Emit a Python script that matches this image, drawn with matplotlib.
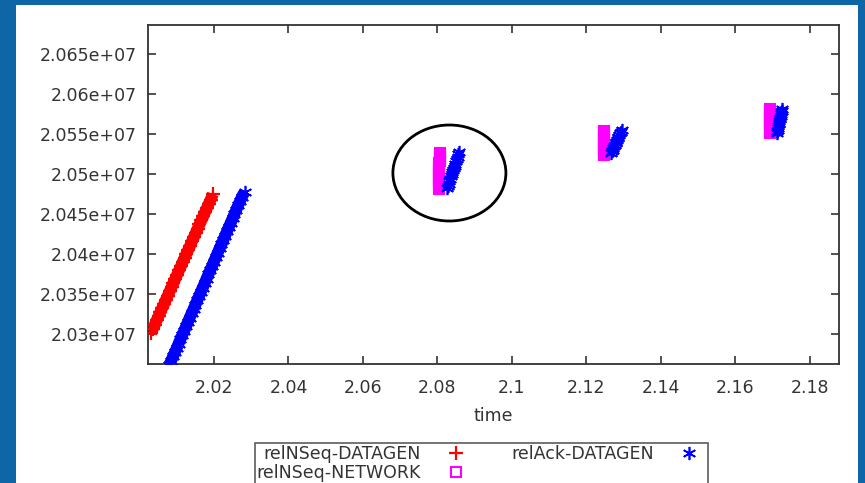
import matplotlib.pyplot as plt
from matplotlib.patches import Rectangle, Ellipse

# relNSeq-DATAGEN (red +)
seq_t = [2.0031, 2.0036, 2.0041, 2.0046, 2.0051, 2.0056, 2.0061, 2.0066, 2.0071,
         2.0076, 2.0081, 2.0086, 2.0091, 2.0096, 2.0101, 2.0106, 2.0111, 2.0116,
         2.0121, 2.0126, 2.0131, 2.0136, 2.0141, 2.0146, 2.0151, 2.0156, 2.0161,
         2.0166, 2.0171, 2.0176, 2.0181, 2.0186, 2.0191, 2.0197]
seq_v = [20301000, 20306500, 20311500, 20317000, 20322000, 20327500, 20332500,
         20337500, 20343000, 20348000, 20353500, 20358500, 20364000, 20369000,
         20374000, 20379500, 20384500, 20390000, 20395000, 20400500, 20405500,
         20410500, 20416000, 20421000, 20426500, 20431500, 20437000, 20442000,
         20447000, 20452500, 20457500, 20463000, 20468000, 20475000]

# relAck-DATAGEN (blue *), first ramp then three short bursts
ack_t = [2.0080, 2.0085, 2.0090, 2.0095, 2.0100, 2.0105, 2.0110, 2.0115, 2.0120,
         2.0125, 2.0130, 2.0135, 2.0140, 2.0145, 2.0150, 2.0155, 2.0160, 2.0165,
         2.0170, 2.0175, 2.0180, 2.0185, 2.0190, 2.0195, 2.0200, 2.0205, 2.0210,
         2.0215, 2.0220, 2.0225, 2.0230, 2.0235, 2.0240, 2.0245, 2.0250, 2.0255,
         2.0260, 2.0265, 2.0270, 2.0275, 2.0282]
ack_v = [20261000, 20266500, 20272000, 20277000, 20282500, 20288000, 20293500,
         20299000, 20304000, 20309500, 20315000, 20320500, 20326000, 20331000,
         20336500, 20342000, 20347500, 20353000, 20358000, 20363500, 20369000,
         20374500, 20380000, 20385000, 20390500, 20396000, 20401500, 20407000,
         20412000, 20417500, 20423000, 20428500, 20434000, 20439000, 20444500,
         20450000, 20455500, 20461000, 20466000, 20471500, 20477500]
burst_ack_t = [2.0826, 2.0828, 2.0830, 2.0832, 2.0834, 2.0836, 2.0838, 2.0840, 2.0842,
               2.0844, 2.0846, 2.0848, 2.0850, 2.0852, 2.0854, 2.0856, 2.0858,
               2.1266, 2.1268, 2.1270, 2.1272, 2.1274, 2.1276, 2.1278, 2.1280,
               2.1282, 2.1284, 2.1286, 2.1288, 2.1290, 2.1293, 2.1295,
               2.1711, 2.1712, 2.1713, 2.1714, 2.1715, 2.1716, 2.1717, 2.1718,
               2.1719, 2.1720, 2.1721, 2.1722, 2.1723, 2.1724, 2.1725]
burst_ack_v = [20482500, 20485000, 20488000, 20491000, 20494000, 20497000, 20499500, 20502000, 20505000,
               20508000, 20510500, 20513000, 20516000, 20519000, 20521500, 20524500, 20527500,
               20526250, 20528500, 20530500, 20532500, 20534500, 20536500, 20538500, 20540500,
               20542500, 20544500, 20546500, 20549000, 20551000, 20553000, 20555000,
               20551250, 20553500, 20555500, 20557500, 20559500, 20562000, 20564000, 20566500,
               20568500, 20570500, 20572500, 20575000, 20577000, 20579000, 20581250]

# relNSeq-NETWORK (magenta open squares)
net_t = [2.0803, 2.0803, 2.0803, 2.0803, 2.0804, 2.0804, 2.0804, 2.0804, 2.0804, 2.0805,
         2.0805, 2.0805, 2.0805, 2.0805, 2.0806, 2.0806, 2.0806, 2.0806, 2.0806,
         2.1246, 2.1246, 2.1246, 2.1246, 2.1247, 2.1247, 2.1247, 2.1247, 2.1247,
         2.1248, 2.1248, 2.1248, 2.1248,
         2.1692, 2.1692, 2.1692, 2.1692, 2.1693, 2.1693, 2.1693, 2.1693, 2.1693,
         2.1694, 2.1694, 2.1694, 2.1694]
net_v = [20481500, 20484000, 20486500, 20489000, 20491500, 20494000, 20496500, 20499000, 20501500, 20504000,
         20506500, 20509000, 20511500, 20514000, 20516500, 20519000, 20521500, 20524000, 20526000,
         20523750, 20526250, 20528750, 20531250, 20533750, 20536250, 20538750, 20541250, 20543750,
         20546250, 20548750, 20551250, 20553750,
         20551250, 20553750, 20556250, 20558750, 20561250, 20563750, 20566250, 20568750, 20571250,
         20573750, 20576250, 20578750, 20581250]

xticks = [2.02, 2.04, 2.06, 2.08, 2.10, 2.12, 2.14, 2.16, 2.18]
xtick_labels = ["2.02", "2.04", "2.06", "2.08", "2.1", "2.12", "2.14", "2.16", "2.18"]
yticks = [20300000, 20350000, 20400000, 20450000, 20500000, 20550000, 20600000, 20650000]
ytick_labels = ["2.03e+07", "2.035e+07", "2.04e+07", "2.045e+07",
                "2.05e+07", "2.055e+07", "2.06e+07", "2.065e+07"]

W, H = 865, 483
fig = plt.figure(figsize=(W / 100, H / 100), dpi=100)
fig.patch.set_facecolor('#0f66a6')
fig.patches.append(Rectangle((16 / W, 0), (858 - 16) / W, 1 - 5 / H,
                             transform=fig.transFigure, facecolor='white',
                             edgecolor='none', zorder=-1))

ax = fig.add_axes([148 / W, 1 - 364 / H, (839 - 148) / W, (364 - 25) / H])
ax.set_zorder(1)
ax.set_facecolor('white')

ax.plot(seq_t, seq_v, color='red', lw=8.5, solid_capstyle='butt', zorder=2)
ax.plot(ack_t, ack_v, color='blue', lw=8.5, solid_capstyle='butt', zorder=2)

ax.plot(seq_t, seq_v, ls='none', marker='+', ms=10, mew=1.6, color='red',
        label='relNSeq-DATAGEN', zorder=3)
ax.plot(net_t, net_v, ls='none', marker='s', ms=6.5, mew=1.5, mfc='none',
        color='#ff00ff', label='relNSeq-NETWORK', zorder=3)
ax.plot(ack_t + burst_ack_t, ack_v + burst_ack_v, ls='none', marker=(6, 2, 0), ms=9.5,
        mew=1.2, color='blue', label='relAck-DATAGEN', zorder=4)

ax.add_patch(Ellipse((2.0832, 20501250), 0.03034, 120000, fill=False,
                     edgecolor='black', lw=2, zorder=5))

ax.set_xlim(2.00228, 2.1878)
ax.set_ylim(20262500, 20686250)
ax.set_xticks(xticks)
ax.set_xticklabels(xtick_labels)
ax.set_yticks(yticks)
ax.set_yticklabels(ytick_labels)
ax.tick_params(direction='in', length=6, width=1.2, color='#333333',
               top=True, right=True, labelsize=12.5, labelcolor='#333333')
ax.tick_params(axis='x', pad=11)
ax.tick_params(axis='y', pad=8)
for s in ax.spines.values():
    s.set_color('#333333')
    s.set_linewidth(1.3)
ax.set_xlabel('time', fontsize=12.5, color='#333333', labelpad=7)

leg = fig.legend(loc='upper left', bbox_to_anchor=(255 / W, 1 - 443 / H),
                 ncol=2, markerfirst=False, fontsize=12.5, frameon=True,
                 fancybox=False, edgecolor='#333333', borderpad=0.1,
                 handlelength=2, handletextpad=1.0, columnspacing=2.2,
                 labelspacing=0.08, borderaxespad=0)
leg.get_frame().set_linewidth(1.2)
leg.set_zorder(2)
for t in leg.get_texts():
    t.set_color('#333333')

fig.savefig('out.png', dpi=100, facecolor=fig.get_facecolor())
